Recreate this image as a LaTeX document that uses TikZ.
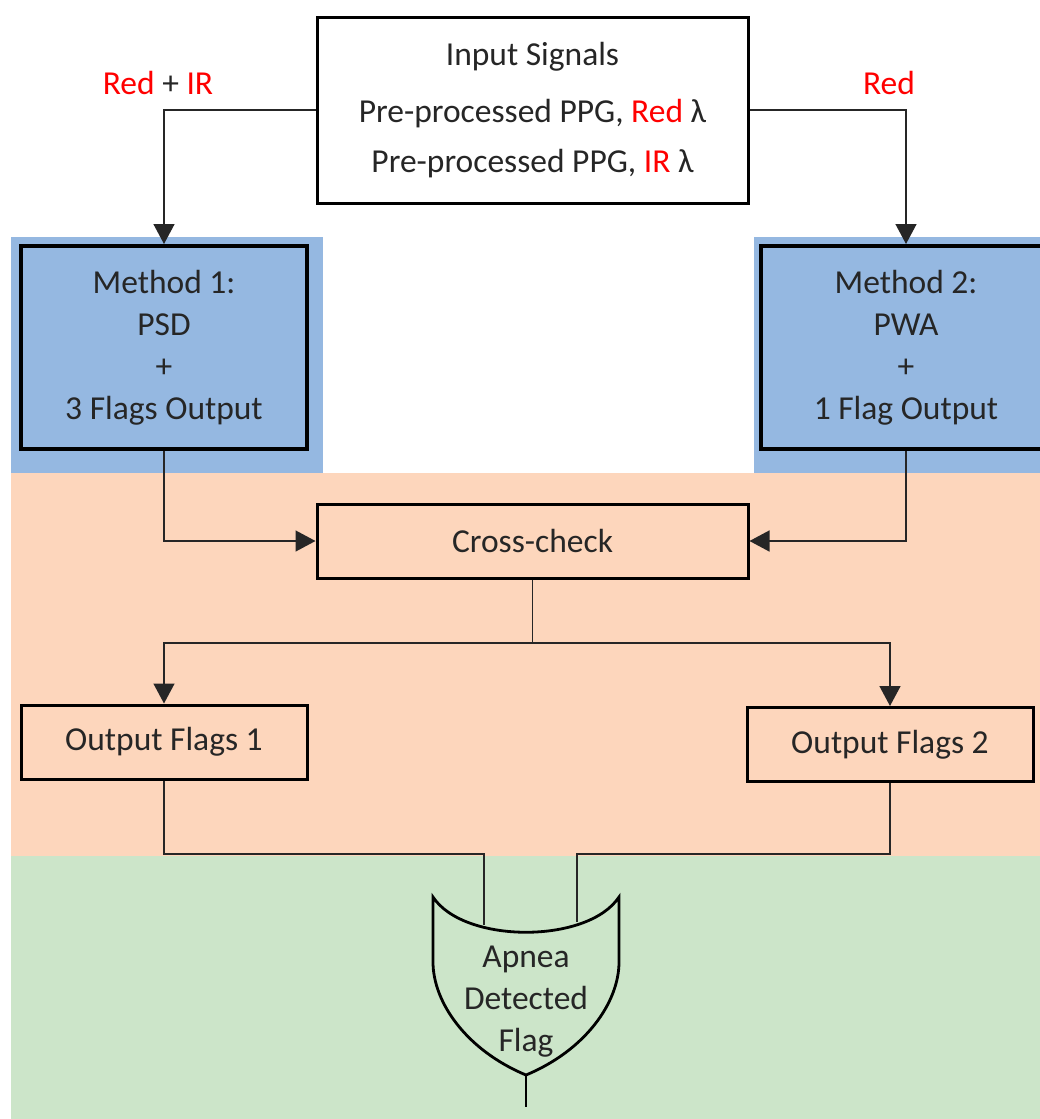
\documentclass[tikz,border=0pt]{standalone}
\usepackage{fontspec}
\setmainfont{Carlito}
\usetikzlibrary{arrows.meta}
\definecolor{zoneblue}{RGB}{149,184,225}
\definecolor{zoneorange}{RGB}{253,214,188}
\definecolor{zonegreen}{RGB}{204,229,201}
\definecolor{inktext}{RGB}{38,38,38}
\newcommand{\redtxt}[1]{\textcolor{red}{#1}}

\begin{document}
\begin{tikzpicture}[
    x=1pt, y=-1pt,
    every node/.style={font=\fontsize{33.5}{42}\selectfont, text=inktext},
    box/.style={draw=black, line width=3pt, align=center, inner sep=0pt,
                minimum width=286pt, minimum height=74pt},
    meth/.style={box, fill=zoneblue, line width=4pt, minimum height=203pt},
    link/.style={line width=1.5pt, black!85},
    flow/.style={link, -{Triangle[width=21pt,length=20pt]}},
    gate/.style={line width=2.8pt, black},
]
\useasboundingbox (0,0) rectangle (1040,1119);
\clip (0,0) rectangle (1040,1119);

% -- zones (behind everything) --
\fill[zoneblue] (11,237) rectangle (323,473);
\fill[zoneblue] (754,237) rectangle (1040,473);
\fill[zoneorange] (11,473) rectangle (1040,856);
\fill[zonegreen] (11,856) rectangle (1040,1119);

% -- input --
\node[box, minimum width=431pt, minimum height=186pt,
      font=\fontsize{33.5}{50}\selectfont] (inp) at (532.5,110)
    {Input Signals\\[7pt]Pre-processed PPG, \redtxt{Red} λ\\Pre-processed PPG, \redtxt{IR} λ};
\node (lblL) at (158,83) {\redtxt{Red} + \redtxt{IR}};
\node (lblR) at (889,83) {\redtxt{Red}};

% -- methods --
\node[meth] (m1) at (164,347.5) {Method 1:\\PSD\\+\\3 Flags Output};
\node[meth, minimum width=290pt] (m2) at (906,347.5) {Method 2:\\PWA\\+\\1 Flag Output};

% -- cross-check and outputs --
\node[box, minimum width=431pt] (cc) at (532.5,541) {Cross-check};
\node[box] (of1) at (164,742) {Output Flags 1};
\node[box] (of2) at (890,744.5) {Output Flags 2};

% -- gate --
\coordinate (gin1) at (484,925);
\coordinate (gin2) at (577,922);
\coordinate (busL) at (484,854);
\coordinate (busR) at (577,854);
\coordinate (split) at (532.5,643);
\coordinate (gout) at (526,1075);
\coordinate (gend) at (526,1107);
\draw[gate, line join=miter] (433,897) -- (433,962)
    .. controls (433,1002) and (466,1050) .. (gout)
    .. controls (586,1050) and (619,1002) .. (619,962) -- (619,897)
    .. controls (588,944) and (464,944) .. (433,897) -- cycle;
\node[align=center] (gate) at (526,1002) {Apnea\\Detected\\Flag};

% -- links --
\draw[flow] (inp.west) -| (m1.north);
\draw[flow] (inp.east) -| (m2.north);
\draw[flow] (m1.south) |- (cc.west);
\draw[flow] (m2.south) |- (cc.east);
\draw[link] (cc.south) -- (split);
\draw[flow] (split) -| (of1.north);
\draw[flow] (split) -| (of2.north);
\draw[link] (of1.south) |- (busL) -- (gin1);
\draw[link] (of2.south) |- (busR) -- (gin2);
\draw[gate] (gout) -- (gend);
\end{tikzpicture}
\end{document}
